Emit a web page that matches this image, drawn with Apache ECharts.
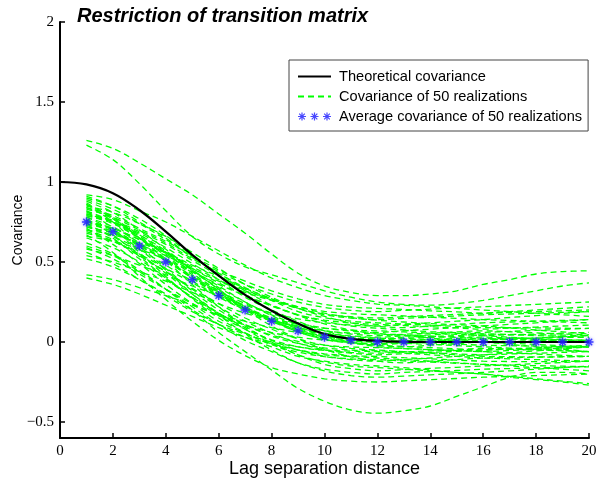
<!DOCTYPE html>
<html>
<head>
<meta charset="utf-8">
<script src="https://cdn.jsdelivr.net/npm/echarts@6/dist/echarts.min.js"></script>
<style>html,body{margin:0;padding:0;background:#fff;}#chart{width:599px;height:484px;}</style>
</head>
<body>
<div id="chart"></div>
<script>
// ---- data ----
const lags = [1,2,3,4,5,6,7,8,9,10,11,12,13,14,15,16,17,18,19,20];
const theoryLags = [0,1,2,3,4,5,6,7,8,9,10,11,12,13,14,15,16,17,18,19,20];
const theoreticalCov = [1.0,0.985,0.93,0.825,0.69,0.545,0.415,0.295,0.195,0.115,0.05,0.02,0.007,0.002,0,0,0,0,0,0,0];
const avgCov = [0.75,0.69,0.60,0.50,0.39,0.29,0.20,0.13,0.07,0.03,0.01,0,0,0,0,0,0,0,0,0];
const xTicks = [0,2,4,6,8,10,12,14,16,18,20];
const yTicks = [-0.5,0,0.5,1,1.5,2];

const real01 = [1.26,1.21,1.12,1.02,0.92,0.80,0.68,0.55,0.43,0.35,0.31,0.29,0.29,0.30,0.32,0.36,0.39,0.425,0.44,0.445];
const real02 = [1.23,1.14,0.99,0.82,0.66,0.55,0.47,0.42,0.37,0.32,0.28,0.25,0.235,0.23,0.24,0.26,0.29,0.32,0.35,0.37];
const real03 = [0.62,0.55,0.45,0.33,0.20,0.06,-0.06,-0.175,-0.29,-0.37,-0.425,-0.445,-0.43,-0.40,-0.34,-0.28,-0.22,-0.19,-0.19,-0.20];
const real04 = [0.40,0.36,0.30,0.23,0.16,0.09,0.03,-0.01,-0.05,-0.08,-0.09,-0.10,-0.11,-0.12,-0.13,-0.14,-0.15,-0.16,-0.17,-0.18];
const real05 = [0.42,0.39,0.34,0.29,0.23,0.17,0.13,0.09,0.06,0.04,0.025,0.02,0.03,0.035,0.04,0.05,0.045,0.04,0.035,0.03];
const real06 = [0.52,0.47,0.39,0.30,0.20,0.11,0.03,-0.03,-0.09,-0.12,-0.14,-0.15,-0.16,-0.175,-0.19,-0.20,-0.22,-0.235,-0.25,-0.27];
const real07 = [0.54,0.50,0.44,0.38,0.31,0.24,0.18,0.135,0.10,0.07,0.056,0.05,0.04,0.025,0.01,0.0,-0.015,-0.03,-0.045,-0.06];
const real08 = [0.56,0.49,0.39,0.29,0.19,0.11,0.05,0.0,-0.03,-0.05,-0.057,-0.06,-0.07,-0.08,-0.09,-0.10,-0.105,-0.11,-0.115,-0.12];
const real09 = [0.58,0.54,0.48,0.42,0.35,0.29,0.23,0.18,0.145,0.12,0.106,0.10,0.11,0.12,0.13,0.14,0.153,0.165,0.178,0.19];
const real10 = [0.60,0.54,0.44,0.33,0.22,0.11,0.01,-0.06,-0.13,-0.17,-0.19,-0.20,-0.19,-0.185,-0.178,-0.17,-0.166,-0.162,-0.158,-0.155];
const real11 = [0.59,0.52,0.425,0.33,0.24,0.165,0.106,0.059,0.03,0.012,0.003,0.0,0.008,0.015,0.022,0.03,0.025,0.02,0.015,0.01];
const real12 = [0.65,0.59,0.50,0.39,0.28,0.18,0.09,0.01,-0.05,-0.09,-0.11,-0.12,-0.11,-0.10,-0.09,-0.08,-0.068,-0.055,-0.043,-0.03];
const real13 = [0.66,0.63,0.58,0.515,0.44,0.36,0.29,0.225,0.17,0.13,0.10,0.086,0.075,0.065,0.058,0.05,0.048,0.045,0.043,0.04];
const real14 = [0.67,0.56,0.41,0.265,0.13,0.01,-0.085,-0.16,-0.20,-0.23,-0.245,-0.25,-0.243,-0.235,-0.228,-0.22,-0.215,-0.21,-0.205,-0.20];
const real15 = [0.68,0.63,0.55,0.46,0.37,0.28,0.20,0.14,0.09,0.056,0.038,0.03,0.038,0.045,0.053,0.06,0.066,0.073,0.079,0.085];
const real16 = [0.69,0.63,0.54,0.44,0.335,0.24,0.15,0.08,0.02,-0.02,-0.04,-0.05,-0.06,-0.07,-0.08,-0.09,-0.092,-0.093,-0.092,-0.09];
const real17 = [0.70,0.67,0.62,0.56,0.48,0.41,0.335,0.27,0.22,0.18,0.153,0.136,0.125,0.115,0.108,0.10,0.088,0.075,0.063,0.05];
const real18 = [0.71,0.61,0.49,0.36,0.24,0.13,0.055,-0.01,-0.05,-0.074,-0.086,-0.09,-0.098,-0.105,-0.113,-0.12,-0.122,-0.123,-0.122,-0.12];
const real19 = [0.72,0.66,0.58,0.48,0.38,0.285,0.20,0.13,0.076,0.038,0.019,0.01,0.003,-0.005,-0.013,-0.02,-0.023,-0.025,-0.028,-0.03];
const real20 = [0.73,0.66,0.55,0.43,0.30,0.18,0.08,-0.01,-0.08,-0.125,-0.15,-0.16,-0.17,-0.18,-0.19,-0.20,-0.215,-0.23,-0.245,-0.26];
const real21 = [0.74,0.69,0.60,0.51,0.41,0.32,0.24,0.18,0.12,0.087,0.069,0.06,0.07,0.08,0.09,0.10,0.11,0.12,0.13,0.14];
const real22 = [0.75,0.71,0.64,0.555,0.45,0.35,0.25,0.165,0.095,0.04,0.0,-0.022,-0.03,-0.02,-0.01,0.0,0.003,0.005,0.008,0.01];
const real23 = [0.76,0.71,0.64,0.56,0.47,0.39,0.31,0.26,0.21,0.174,0.158,0.15,0.158,0.165,0.173,0.18,0.19,0.20,0.21,0.22];
const real24 = [0.77,0.67,0.535,0.40,0.275,0.165,0.08,0.014,-0.03,-0.053,-0.066,-0.07,-0.063,-0.055,-0.048,-0.04,-0.045,-0.05,-0.055,-0.06];
const real25 = [0.78,0.72,0.62,0.52,0.41,0.30,0.21,0.135,0.073,0.031,0.01,0.0,-0.008,-0.015,-0.023,-0.03,-0.038,-0.045,-0.053,-0.06];
const real26 = [0.79,0.74,0.65,0.56,0.46,0.37,0.29,0.23,0.17,0.137,0.119,0.11,0.103,0.095,0.088,0.08,0.087,0.093,0.10,0.106];
const real27 = [0.80,0.75,0.67,0.57,0.45,0.33,0.205,0.10,0.02,-0.046,-0.093,-0.12,-0.13,-0.12,-0.11,-0.10,-0.098,-0.095,-0.093,-0.09];
const real28 = [0.81,0.75,0.66,0.55,0.44,0.34,0.25,0.17,0.11,0.071,0.05,0.04,0.048,0.055,0.063,0.07,0.064,0.057,0.05,0.044];
const real29 = [0.82,0.71,0.56,0.41,0.27,0.15,0.057,-0.017,-0.063,-0.091,-0.105,-0.11,-0.118,-0.125,-0.133,-0.14,-0.144,-0.148,-0.151,-0.155];
const real30 = [0.83,0.78,0.70,0.62,0.52,0.44,0.36,0.30,0.25,0.216,0.198,0.19,0.198,0.205,0.213,0.22,0.228,0.235,0.243,0.25];
const real31 = [0.84,0.77,0.67,0.56,0.43,0.32,0.22,0.14,0.07,0.024,0.001,-0.01,-0.003,0.005,0.013,0.02,0.018,0.015,0.013,0.01];
const real32 = [0.85,0.81,0.74,0.66,0.56,0.46,0.36,0.28,0.21,0.16,0.12,0.098,0.09,0.10,0.11,0.12,0.125,0.13,0.135,0.14];
const real33 = [0.86,0.78,0.65,0.51,0.36,0.22,0.10,0.0,-0.08,-0.14,-0.166,-0.18,-0.173,-0.165,-0.158,-0.15,-0.143,-0.135,-0.128,-0.12];
const real34 = [0.87,0.77,0.65,0.52,0.40,0.29,0.21,0.15,0.11,0.086,0.074,0.07,0.063,0.055,0.048,0.04,0.03,0.02,0.01,0.0];
const real35 = [0.88,0.81,0.70,0.58,0.45,0.33,0.22,0.136,0.064,0.016,-0.008,-0.02,-0.028,-0.035,-0.043,-0.05,-0.045,-0.04,-0.035,-0.03];
const real36 = [0.89,0.83,0.74,0.64,0.53,0.43,0.34,0.27,0.21,0.17,0.15,0.14,0.148,0.155,0.163,0.17,0.175,0.18,0.185,0.19];
const real37 = [0.90,0.85,0.77,0.665,0.54,0.42,0.30,0.195,0.11,0.045,0.0,-0.03,-0.04,-0.047,-0.053,-0.06,-0.068,-0.075,-0.083,-0.09];
const real38 = [0.91,0.85,0.75,0.65,0.53,0.43,0.33,0.26,0.19,0.152,0.13,0.12,0.113,0.105,0.098,0.09,0.089,0.088,0.086,0.085];
const real39 = [0.92,0.89,0.82,0.75,0.66,0.57,0.48,0.40,0.34,0.29,0.26,0.237,0.23,0.22,0.21,0.20,0.19,0.18,0.17,0.16];
const real40 = [0.70,0.64,0.54,0.44,0.33,0.22,0.13,0.055,-0.007,-0.049,-0.07,-0.08,-0.073,-0.065,-0.058,-0.05,-0.043,-0.035,-0.028,-0.02];
const real41 = [0.72,0.68,0.61,0.54,0.46,0.38,0.32,0.265,0.22,0.192,0.177,0.17,0.163,0.155,0.148,0.14,0.135,0.13,0.125,0.12];
const real42 = [0.74,0.65,0.52,0.40,0.28,0.18,0.105,0.043,0.004,-0.02,-0.031,-0.035,-0.041,-0.048,-0.054,-0.06,-0.053,-0.045,-0.038,-0.03];
const real43 = [0.76,0.70,0.61,0.51,0.40,0.30,0.21,0.144,0.084,0.045,0.025,0.015,0.021,0.028,0.034,0.04,0.045,0.05,0.055,0.06];
const real44 = [0.78,0.70,0.58,0.45,0.30,0.17,0.05,-0.05,-0.13,-0.18,-0.21,-0.22,-0.213,-0.205,-0.198,-0.19,-0.18,-0.17,-0.16,-0.15];
const real45 = [0.80,0.76,0.69,0.61,0.51,0.415,0.32,0.23,0.166,0.113,0.075,0.053,0.045,0.037,0.028,0.02,0.015,0.01,0.005,0.0];
const real46 = [0.82,0.75,0.65,0.54,0.42,0.31,0.21,0.13,0.063,0.018,-0.004,-0.015,-0.009,-0.003,0.004,0.01,0.018,0.025,0.033,0.04];
const real47 = [0.84,0.79,0.71,0.63,0.54,0.45,0.38,0.32,0.27,0.235,0.218,0.21,0.203,0.195,0.188,0.18,0.185,0.19,0.195,0.20];
const real48 = [0.86,0.75,0.60,0.46,0.32,0.20,0.11,0.037,-0.009,-0.037,-0.05,-0.055,-0.061,-0.068,-0.074,-0.08,-0.075,-0.07,-0.065,-0.06];
const real49 = [0.75,0.69,0.605,0.51,0.40,0.31,0.22,0.15,0.092,0.054,0.034,0.025,0.019,0.013,0.006,0.0,-0.008,-0.015,-0.023,-0.03];
const real50 = [0.79,0.75,0.68,0.59,0.49,0.39,0.28,0.20,0.13,0.07,0.03,0.008,0.0,0.007,0.013,0.02,0.023,0.025,0.028,0.03];

const realizations = [real01,real02,real03,real04,real05,real06,real07,real08,real09,real10,
  real11,real12,real13,real14,real15,real16,real17,real18,real19,real20,
  real21,real22,real23,real24,real25,real26,real27,real28,real29,real30,
  real31,real32,real33,real34,real35,real36,real37,real38,real39,real40,
  real41,real42,real43,real44,real45,real46,real47,real48,real49,real50];

const NAME_T = 'Theoretical covariance';
const NAME_R = 'Covariance of 50 realizations';
const NAME_A = 'Average covariance of 50 realizations';

// MATLAB-like asterisk glyph (plus + cross), shape only
function asterisk(cx, r, w) {
  const f = n => (Math.round(n * 1000) / 1000);
  let d = '';
  [0, 45, 90, 135].forEach(function (deg) {
    const t = deg * Math.PI / 180;
    const ux = Math.cos(t), uy = Math.sin(t), vx = -uy, vy = ux;
    const pts = [
      [-r * ux - w * vx, -r * uy - w * vy],
      [ r * ux - w * vx,  r * uy - w * vy],
      [ r * ux + w * vx,  r * uy + w * vy],
      [-r * ux + w * vx, -r * uy + w * vy]
    ];
    d += 'M' + pts.map(q => f(cx + q[0]) + ',' + f(q[1])).join('L') + 'Z';
  });
  return d;
}
const starSymbol = 'path://' + asterisk(0, 4, 0.6);
const starLegendIcon = 'path://' + asterisk(4, 4, 0.6) + asterisk(16.5, 4, 0.6) + asterisk(29, 4, 0.6);

const series = [];
realizations.forEach(function (arr) {
  series.push({
    name: NAME_R, type: 'line', smooth: 0.35, symbol: 'none', z: 1,
    data: lags.map((x, i) => [x, arr[i]]),
    lineStyle: { color: '#00ff00', width: 1.3, type: [6, 4] },
    itemStyle: { color: '#00ff00' }
  });
});
series.push({
  name: NAME_T, type: 'line', smooth: 0.4, symbol: 'none', z: 3,
  data: theoryLags.map((x, i) => [x, theoreticalCov[i]]),
  lineStyle: { color: '#000', width: 2.2 },
  itemStyle: { color: '#000' }
});
series.push({
  name: NAME_A, type: 'scatter', z: 4,
  symbol: starSymbol, symbolSize: 9, symbolKeepAspect: true,
  data: lags.map((x, i) => [x, avgCov[i]]),
  itemStyle: { color: '#1a1aff', shadowBlur: 3, shadowColor: 'rgba(90,90,255,0.8)' }
});

const chart = echarts.init(document.getElementById('chart'), null, { renderer: 'canvas' });
chart.setOption({
  animation: false,
  backgroundColor: '#fff',
  title: {
    text: 'Restriction of transition matrix', left: 77, top: 6, padding: 0,
    textStyle: { fontFamily: 'Liberation Sans', fontSize: 20, fontWeight: 'bold', fontStyle: 'italic', color: '#000' }
  },
  legend: {
    orient: 'vertical', left: 289, top: 60, padding: [9, 6, 7, 8], itemGap: 5,
    itemWidth: 33, itemHeight: 8, selectedMode: false,
    borderColor: '#444', borderWidth: 1, backgroundColor: '#fff',
    textStyle: { fontFamily: 'Liberation Sans', fontSize: 14.6, color: '#000', padding: [0, 0, 0, 3] },
    data: [
      { name: NAME_T, itemStyle: { opacity: 0 } },
      { name: NAME_R, itemStyle: { opacity: 0 } },
      { name: NAME_A, icon: starLegendIcon }
    ]
  },
  grid: { left: 60, right: 10, top: 22, bottom: 46, containLabel: false, outerBoundsMode: 'none' },
  xAxis: {
    type: 'value', min: 0, max: 20, interval: 2,
    name: 'Lag separation distance', nameLocation: 'middle', nameGap: 22, nameMoveOverlap: false,
    nameTextStyle: { fontFamily: 'Liberation Sans', fontSize: 18, color: '#000' },
    axisLine: { show: true, onZero: false, lineStyle: { color: '#000', width: 2 } },
    axisTick: { show: true, inside: true, length: 5, customValues: xTicks, lineStyle: { color: '#000', width: 1.5 } },
    axisLabel: { customValues: xTicks, fontFamily: 'Liberation Serif', fontSize: 15, color: '#000', margin: 6 },
    splitLine: { show: false }
  },
  yAxis: {
    type: 'value', min: -0.6, max: 2,
    name: 'Covariance', nameLocation: 'middle', nameGap: 35, nameRotate: 90, nameMoveOverlap: false,
    nameTextStyle: { fontFamily: 'Liberation Sans', fontSize: 14, color: '#000' },
    axisLine: { show: true, onZero: false, lineStyle: { color: '#000', width: 2 } },
    axisTick: { show: true, inside: true, length: 5, customValues: yTicks, lineStyle: { color: '#000', width: 1.5 } },
    axisLabel: {
      customValues: yTicks, fontFamily: 'Liberation Serif', fontSize: 15, color: '#000', margin: 6,
      formatter: v => String(v).replace('-', '\u2212')
    },
    splitLine: { show: false }
  },
  series: series
});
</script>
</body>
</html>
